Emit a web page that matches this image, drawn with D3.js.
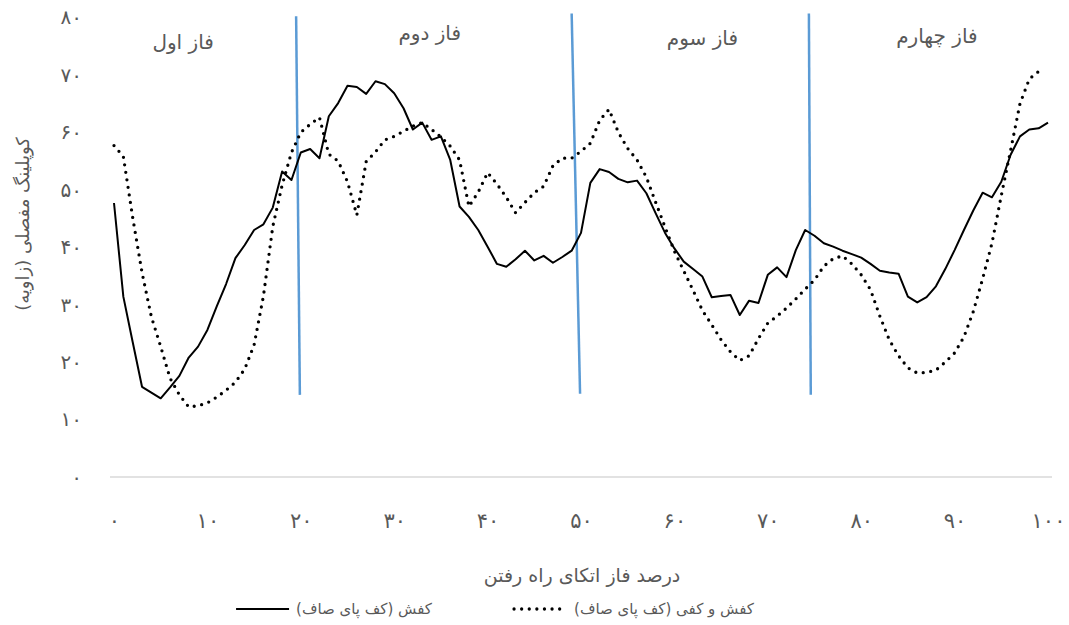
<!DOCTYPE html>
<html>
<head>
<meta charset="utf-8">
<script src="https://cdn.jsdelivr.net/npm/d3@7"></script>
<style>
  body { margin: 0; background: #fff; }
  text { font-family: "DejaVu Sans", sans-serif; fill: #595959; }
</style>
</head>
<body>
<svg id="chart" width="1069" height="625"></svg>
<script>
// percent of stance phase, 0..100
const percent = d3.range(0, 101);

// shoe (flat foot) - solid line
const shoe = [
  47.7, 31.4, 23.5, 15.7, 14.7, 13.7, 15.6, 17.6, 20.8, 22.7,
  25.6, 29.7, 33.6, 38.1, 40.4, 43.0, 44.0, 46.9, 53.2, 51.7,
  56.5, 57.1, 55.5, 62.8, 65.1, 68.1, 67.9, 66.7, 68.9, 68.4,
  66.8, 64.2, 60.5, 61.7, 58.7, 59.3, 55.2, 47.1, 45.3, 43.0,
  40.1, 37.1, 36.6, 37.9, 39.4, 37.7, 38.5, 37.3, 38.3, 39.4,
  42.5, 51.2, 53.6, 53.1, 51.9, 51.3, 51.6, 49.4, 45.9, 42.5,
  39.8, 37.5, 36.2, 34.9, 31.3, 31.5, 31.7, 28.2, 30.7, 30.3,
  35.2, 36.5, 34.8, 39.5, 43.0, 42.0, 40.7, 40.1, 39.4, 38.8,
  38.2, 37.1, 35.9, 35.6, 35.4, 31.4, 30.4, 31.3, 33.2, 36.2,
  39.5, 43.0, 46.4, 49.5, 48.7, 51.4, 56.1, 59.3, 60.5, 60.7, 61.7
];

// shoe + insole (flat foot) - dotted line
const shoeInsole = [
  57.7, 55.8, 45.2, 35.6, 27.9, 22.7, 17.2, 14.3, 12.2, 12.4,
  12.9, 13.9, 15.1, 16.5, 18.8, 23.0, 31.5, 43.6, 50.8, 56.5,
  60.0, 61.4, 62.6, 56.2, 55.0, 51.4, 45.6, 54.9, 56.6, 58.7,
  59.3, 60.2, 61.1, 61.7, 60.5, 59.2, 57.6, 55.2, 47.1, 49.6,
  53.0, 51.0, 48.7, 46.0, 47.8, 49.5, 50.6, 54.2, 55.5, 55.5,
  56.7, 58.1, 62.1, 64.0, 60.0, 57.2, 55.2, 52.2, 47.8, 43.5,
  39.3, 35.9, 32.5, 29.0, 26.5, 23.9, 21.8, 20.3, 21.1, 24.1,
  26.8, 28.0, 29.4, 31.0, 32.7, 34.3, 36.7, 38.0, 38.5, 37.1,
  35.2, 32.6, 28.0, 23.9, 21.1, 19.0, 18.1, 18.2, 18.6, 20.0,
  21.6, 24.4, 28.8, 34.5, 40.7, 49.0, 56.9, 65.0, 69.3, 70.6
];

const seriesNames = ['کفش (کف پای صاف)', 'کفش و کفی (کف پای صاف)'];

// phase boundaries (percent) at top and bottom of the drawn marker lines
const phaseNames = ['فاز اول', 'فاز دوم', 'فاز سوم', 'فاز چهارم'];
const phaseTopX = [19.5, 49.0, 74.4];
const phaseBottomX = [19.9, 49.9, 74.6];
const phaseTopY = [80.2, 80.7, 80.7];
const phaseBottomY = [14.3, 14.5, 14.3];

const xTicks = [0, 10, 20, 30, 40, 50, 60, 70, 80, 90, 100];
const xTickLabels = ['۰', '۱۰', '۲۰', '۳۰', '۴۰', '۵۰', '۶۰', '۷۰', '۸۰', '۹۰', '۱۰۰'];
const yTicks = [0, 10, 20, 30, 40, 50, 60, 70, 80];
const yTickLabels = ['۰', '۱۰', '۲۰', '۳۰', '۴۰', '۵۰', '۶۰', '۷۰', '۸۰'];

const xTitle = 'درصد فاز اتکای راه رفتن';
const yTitle = 'کوپلینگ مفصلی (زاویه)';

// label placement inside each phase (data units)
const phaseLabelPos = [[7.4, 75.5], [33.8, 77.0], [63.0, 76.1], [88.1, 76.5]];

const font = '"DejaVu Sans", sans-serif';
const svg = d3.select('#chart');
const x = d3.scaleLinear().domain([0, 100]).range([114, 1048]);
const y = d3.scaleLinear().domain([0, 80]).range([477, 17.5]);

// baseline
svg.append('line')
  .attr('x1', 110).attr('x2', 1052)
  .attr('y1', y(0)).attr('y2', y(0))
  .attr('stroke', '#d9d9d9').attr('stroke-width', 1.3);

// x tick labels
const xAxis = d3.axisBottom(x)
  .tickValues(xTicks)
  .tickSize(0)
  .tickPadding(0)
  .tickFormat((d, i) => xTickLabels[i]);
const gx = svg.append('g').attr('transform', 'translate(0,521)').call(xAxis);
gx.select('.domain').remove();
gx.selectAll('text')
  .attr('dy', '0.35em').attr('y', 0)
  .style('font-size', '21px').style('fill', '#595959')
  .style('font-family', font);

// y tick labels
const yAxis = d3.axisLeft(y)
  .tickValues(yTicks)
  .tickSize(0)
  .tickPadding(0)
  .tickFormat((d, i) => yTickLabels[i]);
const gy = svg.append('g').attr('transform', 'translate(82,0)').call(yAxis);
gy.select('.domain').remove();
gy.selectAll('text')
  .style('font-size', '20px').style('fill', '#595959')
  .style('font-family', font);

// phase marker lines
svg.selectAll('line.phase')
  .data(phaseTopX)
  .join('line')
  .attr('class', 'phase')
  .attr('x1', (d) => x(d))
  .attr('x2', (d, i) => x(phaseBottomX[i]))
  .attr('y1', (d, i) => y(phaseTopY[i]))
  .attr('y2', (d, i) => y(phaseBottomY[i]))
  .attr('stroke', '#5b9bd5')
  .attr('stroke-width', 2.5);

// phase labels
svg.selectAll('text.phase-label')
  .data(phaseNames)
  .join('text')
  .attr('class', 'phase-label')
  .attr('x', (d, i) => x(phaseLabelPos[i][0]))
  .attr('y', (d, i) => y(phaseLabelPos[i][1]))
  .attr('text-anchor', 'middle')
  .attr('dominant-baseline', 'middle')
  .attr('direction', 'rtl')
  .style('font-size', '20px')
  .text((d) => d);

// series
const line = d3.line()
  .x((d, i) => x(percent[i]))
  .y((d) => y(d));

svg.append('path')
  .datum(shoeInsole)
  .attr('fill', 'none')
  .attr('stroke', '#000')
  .attr('stroke-width', 3.3)
  .attr('stroke-linecap', 'round')
  .attr('stroke-dasharray', '0 7.6')
  .attr('d', line);

svg.append('path')
  .datum(shoe)
  .attr('fill', 'none')
  .attr('stroke', '#000')
  .attr('stroke-width', 2)
  .attr('stroke-linejoin', 'round')
  .attr('d', line);

// axis titles
svg.append('text')
  .attr('x', 582).attr('y', 576)
  .attr('text-anchor', 'middle')
  .attr('dominant-baseline', 'middle')
  .attr('direction', 'rtl')
  .style('font-size', '19px')
  .text(xTitle);

svg.append('text')
  .attr('transform', 'translate(24,224) rotate(-90)')
  .attr('text-anchor', 'middle')
  .attr('dominant-baseline', 'middle')
  .attr('direction', 'rtl')
  .style('font-size', '18px')
  .text(yTitle);

// legend: text centred where the original puts it, sample placed to its left
const legend = [
  { name: seriesNames[0], tx: 364, dash: null, w: 2 },
  { name: seriesNames[1], tx: 664, dash: '0 7.6', w: 3.3 }
];
const lg = svg.append('g').attr('transform', 'translate(0,609)');
const lgText = lg.selectAll('text')
  .data(legend)
  .join('text')
  .attr('x', (d) => d.tx)
  .attr('y', 0)
  .attr('text-anchor', 'middle')
  .attr('dominant-baseline', 'middle')
  .attr('direction', 'rtl')
  .style('font-size', '15px')
  .text((d) => d.name);
lgText.each(function(d) {
  d.left = d.tx - this.getComputedTextLength() / 2;
});
lg.selectAll('line')
  .data(legend)
  .join('line')
  .attr('x1', (d) => d.left - 60).attr('x2', (d) => d.left - 7)
  .attr('y1', 0).attr('y2', 0)
  .attr('stroke', '#000')
  .attr('stroke-width', (d) => d.w)
  .attr('stroke-linecap', (d) => d.dash ? 'round' : 'butt')
  .attr('stroke-dasharray', (d) => d.dash);
</script>
</body>
</html>
